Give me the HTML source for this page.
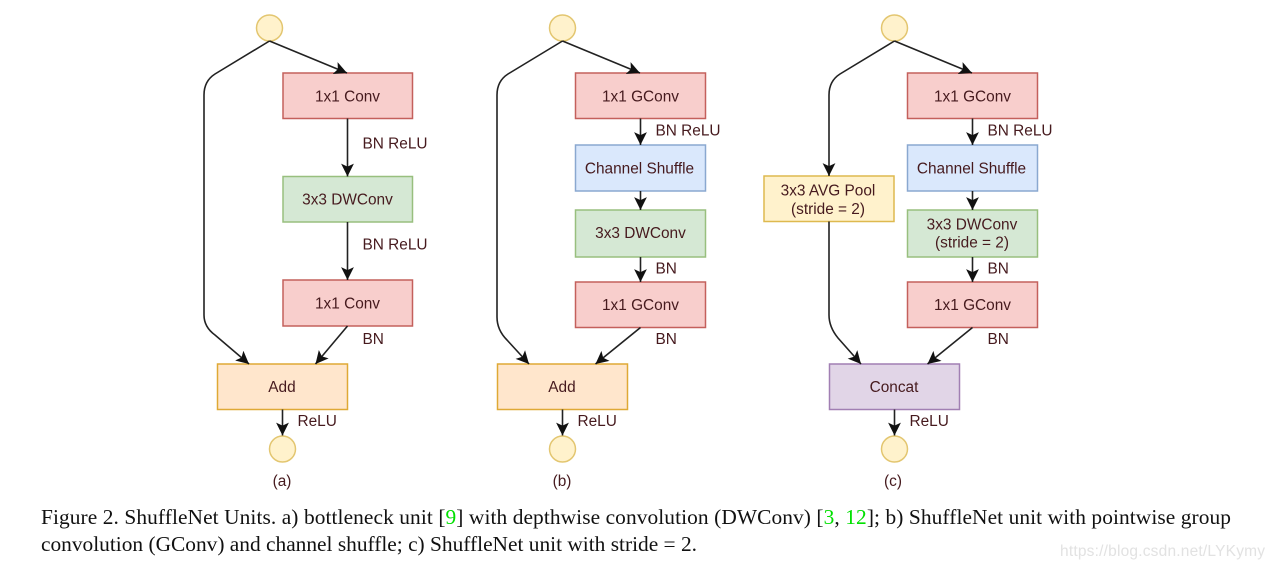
<!DOCTYPE html>
<html>
<head>
<meta charset="utf-8">
<style>
html,body{margin:0;padding:0;background:#fff;width:1274px;height:568px;overflow:hidden}
svg{display:block}
.blur{filter:blur(0.35px)}
.l{font-family:"Liberation Sans",sans-serif;font-size:15.4px;fill:#461a1e}
.c{text-anchor:middle}
.cap{font-family:"Liberation Serif",serif;font-size:21.4px;fill:#111}
.e{fill:none;stroke:#222;stroke-width:1.6}
.o{fill:#fff2cc;stroke:#e3c670;stroke-width:1.5}
.r{fill:#f8cecc;stroke:#c4605c;stroke-width:1.5}
.g{fill:#d5e8d4;stroke:#98bf7e;stroke-width:1.5}
.b{fill:#dae8fc;stroke:#8aa8d0;stroke-width:1.5}
.a{fill:#ffe6cc;stroke:#dfa935;stroke-width:1.5}
.y{fill:#fff2cc;stroke:#deb94f;stroke-width:1.5}
.p{fill:#e1d5e7;stroke:#a17fb3;stroke-width:1.5}
</style>
</head>
<body>
<svg width="1274" height="568" viewBox="0 0 1274 568" xmlns="http://www.w3.org/2000/svg">
<defs>
<marker id="m" markerUnits="userSpaceOnUse" markerWidth="14" markerHeight="14" refX="11" refY="6" orient="auto" viewBox="0 0 12 12">
<path d="M0,0.5 L11,6 L0,11.5 L2.5,6 Z" fill="#111"/>
</marker>
</defs>
<g class="blur">
<!-- (a) -->
<circle class="o" cx="269.5" cy="28" r="13"/>
<rect class="r" x="283" y="73" width="129.5" height="45.5"/>
<rect class="g" x="283" y="176.5" width="129.5" height="45.5"/>
<rect class="r" x="283" y="280" width="129.5" height="46"/>
<rect class="a" x="217.5" y="364" width="130" height="45.5"/>
<circle class="o" cx="282.5" cy="449" r="13"/>
<path class="e" marker-end="url(#m)" d="M269.5,41 L347,73"/>
<path class="e" marker-end="url(#m)" d="M269.5,41 L215,74 Q204,81 204,95 V315 Q204,327 215,335 L249,364"/>
<path class="e" marker-end="url(#m)" d="M347.5,118.5 V176.5"/>
<path class="e" marker-end="url(#m)" d="M347.5,222 V280"/>
<path class="e" marker-end="url(#m)" d="M347.5,326 L315.5,364"/>
<path class="e" marker-end="url(#m)" d="M282.5,409.5 V435.5"/>
<text class="l c" x="347.5" y="101.5">1x1 Conv</text>
<text class="l c" x="347.5" y="204.5">3x3 DWConv</text>
<text class="l c" x="347.5" y="308.5">1x1 Conv</text>
<text class="l c" x="282" y="392">Add</text>
<text class="l" x="362.5" y="148.5">BN ReLU</text>
<text class="l" x="362.5" y="249.5">BN ReLU</text>
<text class="l" x="362.5" y="344">BN</text>
<text class="l" x="297.5" y="426">ReLU</text>
<text class="l c" x="282" y="486">(a)</text>

<!-- (b) -->
<circle class="o" cx="562.5" cy="28" r="13"/>
<rect class="r" x="575.5" y="73" width="130" height="45.5"/>
<rect class="b" x="575.5" y="145" width="130" height="46"/>
<rect class="g" x="575.5" y="210" width="130" height="47"/>
<rect class="r" x="575.5" y="282" width="130" height="45.5"/>
<rect class="a" x="497.5" y="364" width="130" height="45.5"/>
<circle class="o" cx="562.5" cy="449" r="13"/>
<path class="e" marker-end="url(#m)" d="M562.5,41 L508,74 Q497,81 497,95 V317 Q497,330 507,340 L529,364"/>
<path class="e" marker-end="url(#m)" d="M562.5,41 L640,73"/>
<path class="e" marker-end="url(#m)" d="M640.5,118.5 V145"/>
<path class="e" marker-end="url(#m)" d="M640.5,191 V210"/>
<path class="e" marker-end="url(#m)" d="M640.5,257 V282"/>
<path class="e" marker-end="url(#m)" d="M640.5,327.5 L595.5,364"/>
<path class="e" marker-end="url(#m)" d="M562.5,409.5 V435.5"/>
<text class="l c" x="640.5" y="101.5">1x1 GConv</text>
<text class="l c" x="639.5" y="173.5">Channel Shuffle</text>
<text class="l c" x="640.5" y="238">3x3 DWConv</text>
<text class="l c" x="640.5" y="310">1x1 GConv</text>
<text class="l c" x="562" y="392">Add</text>
<text class="l" x="655.5" y="135.5">BN ReLU</text>
<text class="l" x="655.5" y="273.5">BN</text>
<text class="l" x="655.5" y="344">BN</text>
<text class="l" x="577.5" y="426">ReLU</text>
<text class="l c" x="562" y="486">(b)</text>

<!-- (c) -->
<circle class="o" cx="894.5" cy="28" r="13"/>
<rect class="r" x="907.5" y="73" width="130" height="45.5"/>
<rect class="b" x="907.5" y="145" width="130" height="46"/>
<rect class="g" x="907.5" y="210" width="130" height="47"/>
<rect class="r" x="907.5" y="282" width="130" height="45.5"/>
<rect class="y" x="764" y="176" width="130" height="45.5"/>
<rect class="p" x="829.5" y="364" width="130" height="45.5"/>
<circle class="o" cx="894.5" cy="449" r="13"/>
<path class="e" marker-end="url(#m)" d="M894.5,41 L972,73"/>
<path class="e" marker-end="url(#m)" d="M894.5,41 L840,74 Q829,81 829,95 V176"/>
<path class="e" marker-end="url(#m)" d="M829,221.5 V315 Q829,327 838,338 L861,364"/>
<path class="e" marker-end="url(#m)" d="M972.5,118.5 V145"/>
<path class="e" marker-end="url(#m)" d="M972.5,191 V210"/>
<path class="e" marker-end="url(#m)" d="M972.5,257 V282"/>
<path class="e" marker-end="url(#m)" d="M972.5,327.5 L927.5,364"/>
<path class="e" marker-end="url(#m)" d="M894.5,409.5 V435.5"/>
<text class="l c" x="972.5" y="101.5">1x1 GConv</text>
<text class="l c" x="971.5" y="173.5">Channel Shuffle</text>
<text class="l c" x="972" y="229.5">3x3 DWConv</text>
<text class="l c" x="972" y="247.5">(stride = 2)</text>
<text class="l c" x="828" y="195.5">3x3 AVG Pool</text>
<text class="l c" x="828" y="214">(stride = 2)</text>
<text class="l c" x="972.5" y="310">1x1 GConv</text>
<text class="l c" x="894" y="392">Concat</text>
<text class="l" x="987.5" y="135.5">BN ReLU</text>
<text class="l" x="987.5" y="273.5">BN</text>
<text class="l" x="987.5" y="344">BN</text>
<text class="l" x="909.5" y="426">ReLU</text>
<text class="l c" x="893" y="486">(c)</text>

<!-- caption -->
<text class="cap" x="41" y="524" textLength="1190" lengthAdjust="spacing">Figure 2. ShuffleNet Units. a) bottleneck unit [<tspan fill="#00e000">9</tspan>] with depthwise convolution (DWConv) [<tspan fill="#00e000">3</tspan>, <tspan fill="#00e000">12</tspan>]; b) ShuffleNet unit with pointwise group</text>
<text class="cap" x="41" y="551" textLength="656" lengthAdjust="spacing">convolution (GConv) and channel shuffle; c) ShuffleNet unit with stride = 2.</text>
<text x="1060" y="556" font-family="'Liberation Sans',sans-serif" font-size="15.5" fill="#e2e2e2" textLength="205" lengthAdjust="spacing">https://blog.csdn.net/LYKymy</text>
</g>
</svg>
</body>
</html>
